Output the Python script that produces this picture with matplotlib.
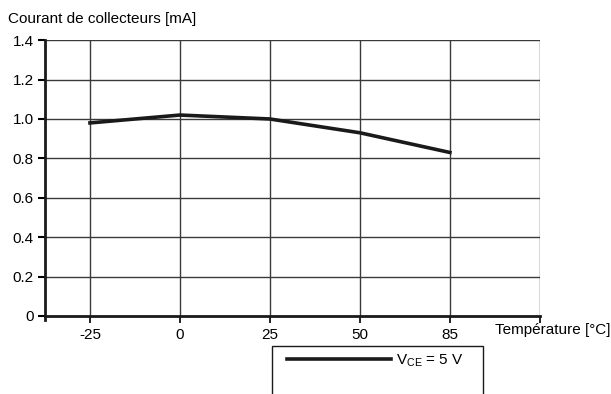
import matplotlib
matplotlib.use("Agg")
import matplotlib.pyplot as plt
from matplotlib.patches import Rectangle

plt.rcParams['font.family'] = ['Liberation Sans', 'DejaVu Sans']
plt.rcParams['mathtext.fontset'] = 'custom'
plt.rcParams['mathtext.rm'] = 'Liberation Sans'

# data
temperatures = ['-25', '0', '25', '50', '85']
current_ma = [0.98, 1.02, 1.00, 0.93, 0.83]
y_ticks = [0, 0.2, 0.4, 0.6, 0.8, 1.0, 1.2, 1.4]
y_labels = ['0', '0.2', '0.4', '0.6', '0.8', '1.0', '1.2', '1.4']

fig = plt.figure(figsize=(6.11, 3.94), dpi=100)
ax = fig.add_axes([0.0736, 0.198, 0.81, 0.70])

xpos = list(range(len(temperatures)))
line, = ax.plot(xpos, current_ma, color='#1a1a1a', linewidth=2.6,
                solid_joinstyle='miter', zorder=3)

# grid: horizontal at every tick, vertical at each category and right border
for yv in y_ticks[1:]:
    ax.axhline(yv, color='#3a3a3a', linewidth=1.0, zorder=1)
for xv in xpos + [len(temperatures)]:
    ax.axvline(xv, color='#3a3a3a', linewidth=1.0, zorder=1)

ax.set_xlim(-0.5, len(temperatures))
ax.set_ylim(0, 1.4)

for side in ['top', 'right']:
    ax.spines[side].set_visible(False)
ax.spines['left'].set_linewidth(2.0)
ax.spines['bottom'].set_linewidth(2.0)
ax.spines['left'].set_color('#1a1a1a')
ax.spines['bottom'].set_color('#1a1a1a')
ax.spines['left'].set_bounds(-0.02, 1.4)

ax.set_yticks(y_ticks)
ax.set_yticklabels(y_labels)
ax.set_xticks(xpos + [len(temperatures)])
ax.set_xticklabels(temperatures + [''])
ax.tick_params(axis='y', direction='out', length=5, width=1.5, labelsize=11, pad=3)
ax.tick_params(axis='x', direction='out', length=5, width=1.2, labelsize=11, pad=4)

fig.text(0.013, 0.953, 'Courant de collecteurs [mA]', fontsize=11, ha='left', va='center')
fig.text(0.999, 0.163, 'Température [°C]', fontsize=11, ha='right', va='center')

# legend box (cut off at the bottom of the image)
fig.patches.append(Rectangle((272 / 611, -0.05), (483 - 272) / 611, 0.05 + (394 - 346) / 394,
                             transform=fig.transFigure, fill=False,
                             edgecolor='#1a1a1a', linewidth=1.0))
leg = fig.legend([line], [r'$\mathregular{V_{CE}}$ = 5 V'], loc='upper left',
                 bbox_to_anchor=(281 / 611, 1 - 346 / 394), frameon=False,
                 handlelength=6.8, handletextpad=0.35, fontsize=11,
                 borderaxespad=0)

fig.savefig('out.png', dpi=100)
